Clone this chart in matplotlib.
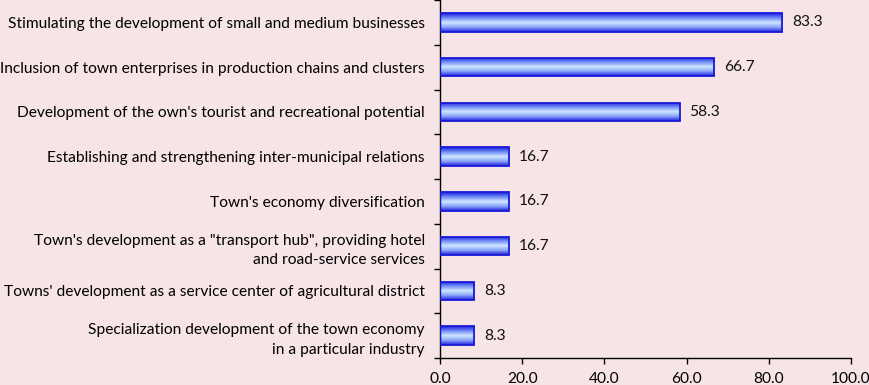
import matplotlib
matplotlib.use("Agg")
import matplotlib.pyplot as plt
import numpy as np
from matplotlib.colors import LinearSegmentedColormap
from matplotlib.ticker import FixedLocator, NullFormatter

categories = [
    "Stimulating the development of small and medium businesses",
    "Inclusion of town enterprises in production chains and clusters",
    "Development of the own's tourist and recreational potential",
    "Establishing and strengthening inter-municipal relations",
    "Town's economy diversification",
    "Town's development as a \"transport hub\", providing hotel\nand road-service services",
    "Towns' development as a service center of agricultural district",
    "Specialization development of the town economy\nin a particular industry",
]
values = [83.3, 66.7, 58.3, 16.7, 16.7, 16.7, 8.3, 8.3]
xticks = [0, 20, 40, 60, 80, 100]

bg = "#f6e4e6"
plt.rcParams['font.family'] = ['Lato', 'DejaVu Sans']

fig = plt.figure(figsize=(8.69, 3.85), dpi=100, facecolor=bg)
ax = fig.add_axes([440/869, (385-358)/385, (851-440)/869, 358/385])
ax.set_facecolor(bg)

y = np.arange(len(categories))
bars = ax.barh(y, values, height=0.41, color="none", edgecolor="#1a1ad8", linewidth=1.3, zorder=3)

cmap = LinearSegmentedColormap.from_list("g", ["#1c1ce0", "#6f8cf5", "#cfe6ff", "#8aa5f8", "#2020e0"])
grad = np.linspace(0, 1, 100).reshape(-1, 1)
for b in bars:
    x0, y0 = b.get_x(), b.get_y()
    w, h = b.get_width(), b.get_height()
    im = ax.imshow(grad, cmap=cmap, aspect="auto", extent=(x0, x0 + w, y0 + h, y0), zorder=2, interpolation="bilinear")
    im.set_clip_path(b)

for yi, v in zip(y, values):
    ax.text(v + 2.4, yi, f"{v:.1f}", va="center", ha="left", fontsize=11.2, color="#111111")

ax.set_xlim(0, 100)
ax.set_ylim(len(categories) - 0.5, -0.5)
ax.set_xticks(xticks)
ax.set_xticklabels([f"{t:.1f}" for t in xticks], fontsize=11.2)
ax.set_yticks(y)
ax.set_yticklabels(categories, fontsize=11.2, ha="right", multialignment="right", linespacing=1.5)
ax.tick_params(axis="y", length=0, pad=11)
ax.yaxis.set_minor_locator(FixedLocator(np.arange(-0.5, len(categories), 1)))
ax.yaxis.set_minor_formatter(NullFormatter())
ax.tick_params(axis="y", which="minor", length=4, direction="out", width=1)
ax.tick_params(axis="x", length=4, direction="out", width=1, pad=6)

for s in ["top", "right"]:
    ax.spines[s].set_visible(False)
for s in ["left", "bottom"]:
    ax.spines[s].set_linewidth(1)
    ax.spines[s].set_color("black")

fig.savefig("out.png", dpi=100, facecolor=bg)
